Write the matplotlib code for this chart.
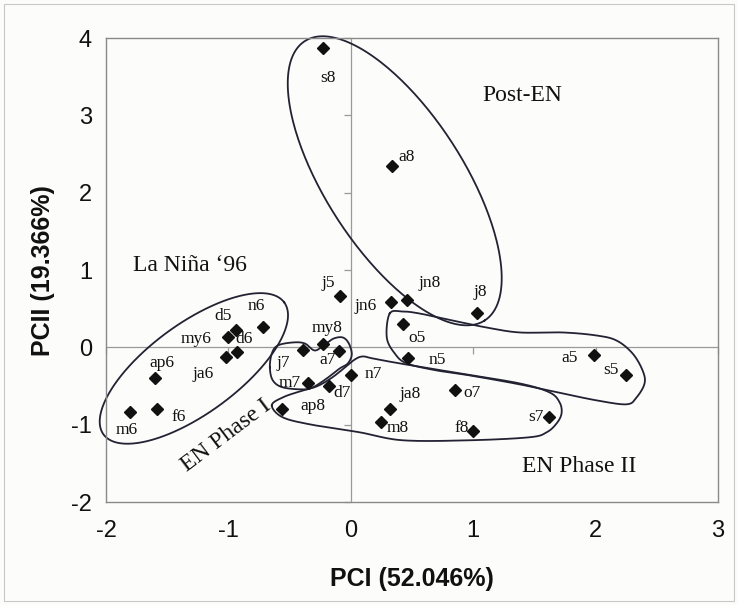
import numpy as np
import matplotlib
matplotlib.use("Agg")
import matplotlib.pyplot as plt
from matplotlib.patches import Rectangle

# ---------------- data ----------------
labels = ['s8', 'a8', 'j5', 'jn6', 'jn8', 'j8', 'o5', 'n5', 'a5', 's5',
          's7', 'f8', 'o7', 'ja8', 'm8', 'n7', 'd7', 'm7', 'j7', 'a7',
          'my8', 'ap8', 'n6', 'd5', 'my6', 'd6', 'ja6', 'ap6', 'f6', 'm6']
pc1 = [-0.23, 0.34, -0.09, 0.33, 0.46, 1.03, 0.43, 0.47, 1.99, 2.25,
       1.62, 1.00, 0.85, 0.32, 0.245, 0.0, -0.18, -0.35, -0.39, -0.10,
       -0.23, -0.56, -0.72, -0.94, -1.00, -0.93, -1.02, -1.60, -1.58, -1.80]
pc2 = [3.87, 2.34, 0.66, 0.59, 0.62, 0.44, 0.30, -0.14, -0.10, -0.36,
       -0.90, -1.08, -0.55, -0.79, -0.97, -0.35, -0.50, -0.46, -0.03, -0.05,
       0.05, -0.79, 0.27, 0.23, 0.13, -0.06, -0.12, -0.39, -0.80, -0.83]

xticks = [-2, -1, 0, 1, 2, 3]
yticks = [-2, -1, 0, 1, 2, 3, 4]
xlabel = 'PCI (52.046%)'
ylabel = 'PCII (19.366%)'

group_names = ['Post-EN', 'La Niña ‘96', 'EN Phase I', 'EN Phase II']

# label offsets (pixels) for each point label
label_off = {
    's8': (5, -30), 'a8': (14, 9), 'j5': (-12, 13), 'jn6': (-26, -4),
    'jn8': (23, 17), 'j8': (3, 21), 'o5': (14, -14), 'n5': (29, -2),
    'a5': (-25, -3), 's5': (-15, 5), 's7': (-13, 0), 'f8': (-12, 3),
    'o7': (17, -3), 'ja8': (20, 15), 'm8': (17, -6), 'n7': (22, 1),
    'd7': (13, -7), 'm7': (-18, 0), 'j7': (-20, -13), 'a7': (-11, -9),
    'my8': (4, 16), 'ap8': (31, 3), 'n6': (-6, 21), 'd5': (-13, 14),
    'my6': (-32, -2), 'd6': (7, 13), 'ja6': (-23, -17), 'ap6': (7, 15),
    'f6': (21, -8), 'm6': (-4, -18),
}

# hand-drawn group outlines (annotation shapes, data coordinates)
ell_post = dict(c=(0.359, 2.155), a=(0.735, -1.806), b=(0.473, 0.481))
ell_nina = dict(c=(-1.282, -0.271), a=(0.738, 0.854), b=(0.217, -0.468))

shape_en1 = [(-0.661, -0.258), (-0.645, -0.077), (-0.596, 0.026), (-0.473, 0.065),
             (-0.376, 0.052), (-0.294, -0.039), (-0.212, 0.039), (-0.139, 0.116),
             (-0.065, 0.129), (-0.016, 0.052), (0.008, -0.090), (-0.024, -0.206),
             (-0.090, -0.271), (-0.196, -0.400), (-0.310, -0.516), (-0.392, -0.542),
             (-0.555, -0.516), (-0.637, -0.426)]
shape_en2 = [(-0.645, -0.748), (-0.555, -0.645), (-0.416, -0.568), (-0.278, -0.503),
             (-0.163, -0.400), (-0.057, -0.271), (0.033, -0.155), (0.098, -0.116),
             (0.180, -0.142), (0.400, -0.206), (0.890, -0.335), (1.380, -0.465),
             (1.624, -0.581), (1.706, -0.710), (1.722, -0.852), (1.682, -0.981),
             (1.600, -1.097), (1.461, -1.161), (0.971, -1.200), (0.424, -1.200),
             (0.073, -1.097), (-0.335, -0.994), (-0.560, -0.900)]
shape_a5 = [(0.318, 0.439), (0.424, 0.465), (0.563, 0.439), (0.833, 0.348),
            (1.110, 0.258), (1.380, 0.194), (1.731, 0.194), (2.008, 0.155),
            (2.171, 0.090), (2.302, -0.077), (2.384, -0.297), (2.400, -0.465),
            (2.335, -0.645), (2.253, -0.735), (2.008, -0.684), (1.731, -0.594),
            (1.380, -0.477), (0.971, -0.361), (0.702, -0.297), (0.457, -0.206),
            (0.359, -0.077), (0.294, 0.129)]


def ellipse_pts(e, n=300):
    t = np.linspace(0, 2 * np.pi, n)
    x = e['c'][0] + e['a'][0] * np.cos(t) + e['b'][0] * np.sin(t)
    y = e['c'][1] + e['a'][1] * np.cos(t) + e['b'][1] * np.sin(t)
    return x, y


def closed_spline(pts, n=20):
    p = np.array(pts, dtype=float)
    N = len(p)
    out = []
    for i in range(N):
        p0, p1, p2, p3 = p[(i - 1) % N], p[i], p[(i + 1) % N], p[(i + 2) % N]
        for t in np.linspace(0, 1, n, endpoint=False):
            t2, t3 = t * t, t * t * t
            out.append(0.5 * ((2 * p1) + (-p0 + p2) * t +
                              (2 * p0 - 5 * p1 + 4 * p2 - p3) * t2 +
                              (-p0 + 3 * p1 - 3 * p2 + p3) * t3))
    out.append(out[0])
    out = np.array(out)
    return out[:, 0], out[:, 1]


# ---------------- figure ----------------
bg = '#fcfcfa'
fig = plt.figure(figsize=(7.38, 6.05), dpi=100, facecolor=bg)
ax = fig.add_axes([0.1436, 0.170, 0.9729 - 0.1436, 0.937 - 0.170])
ax.set_facecolor(bg)
ax.set_xlim(-2, 3)
ax.set_ylim(-2, 4)

for s in ax.spines.values():
    s.set_color('#8a8a8a')
    s.set_linewidth(1.0)

ax.axhline(0, color='#9a9a9a', lw=0.9, zorder=1)
ax.axvline(0, color='#9a9a9a', lw=0.9, zorder=1)
ax.plot(np.zeros(len(yticks)), yticks, ls='none', marker=0, ms=5,
        mew=0.9, color='#9a9a9a', zorder=1, clip_on=False)
ax.plot(xticks, np.zeros(len(xticks)), ls='none', marker=3, ms=5,
        mew=0.9, color='#9a9a9a', zorder=1, clip_on=False)

ax.set_xticks(xticks)
ax.set_yticks(yticks)
ax.set_xticklabels([str(v) for v in xticks], family='Liberation Sans', fontsize=17)
ax.set_yticklabels([str(v) for v in yticks], family='Liberation Sans', fontsize=17)
ax.tick_params(length=0, colors='#111111')
ax.tick_params(axis='x', pad=13)
ax.tick_params(axis='y', pad=10)
ax.set_xlabel(xlabel, family='Liberation Sans', fontweight='bold', fontsize=18,
              color='#111111', labelpad=18)
ax.set_ylabel(ylabel, family='Liberation Sans', fontweight='bold', fontsize=18,
              color='#111111', labelpad=12)

# outlines
lc = '#222233'
for e in (ell_post, ell_nina):
    x, y = ellipse_pts(e)
    ax.plot(x, y, color=lc, lw=1.3, zorder=2, clip_on=False)
for shp in (shape_en1, shape_en2, shape_a5):
    x, y = closed_spline(shp)
    ax.plot(x, y, color=lc, lw=1.3, zorder=2, clip_on=False)

# points
ax.plot(pc1, pc2, ls='none', marker='D', ms=6, color='#111111', zorder=3)

for lab, x, y in zip(labels, pc1, pc2):
    dx, dy = label_off[lab]
    ax.annotate(lab, (x, y), xytext=(dx, dy), textcoords='offset pixels',
                ha='center', va='center', family='Liberation Serif',
                fontsize=12.5, color='#111111', zorder=4)

# group labels
gkw = dict(family='Liberation Serif', fontsize=17, color='#111111',
           ha='center', va='center')
ax.text(1.40, 3.26, group_names[0], **gkw)
ax.text(-1.31, 1.06, group_names[1], **gkw)
ax.text(-1.02, -1.14, group_names[2], rotation=37, **gkw)
ax.text(1.87, -1.54, group_names[3], **gkw)

# faint outer frame
fig.patches.append(Rectangle((0.006, 0.006), 0.988, 0.988, transform=fig.transFigure,
                             fill=False, edgecolor='#c8c8c8', lw=0.8))

fig.savefig('out.png', dpi=100, facecolor=bg)
